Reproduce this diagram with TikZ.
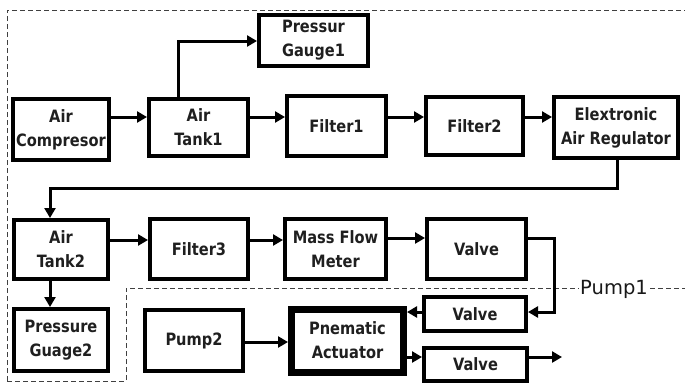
\documentclass[tikz,border=0pt]{standalone}
\usepackage{fontspec}
\setmainfont{DejaVu Sans}[FakeStretch=0.86]
\newfontfamily\pumpfont{DejaVu Sans}
\usetikzlibrary{arrows.meta}
\tikzset{
  box/.style={draw, line width=4pt, inner sep=0pt, align=center,
    font=\bfseries\fontsize{17}{24}\selectfont, text=black!88},
  arr/.style={line width=3pt, -{Triangle[length=10pt,width=11pt]}},
  dsh/.style={draw=black!75, line width=1pt, dash pattern=on 5pt off 3pt}
}
\begin{document}
\begin{tikzpicture}[x=1pt,y=-1pt]
\useasboundingbox (0,0) rectangle (685,383);
% dashed regions
\draw[dsh] (7,381) -- (7,10) -- (685,10);
\draw[dsh] (7,381) -- (126,381) -- (126,288) -- (685,288);
\node[fill=white, inner sep=1.5pt, font=\pumpfont\fontsize{19.5}{19.5}\selectfont, text=black!90] (pump1) at (614,289) {Pump1};
% row 1
\node[box, minimum width=96pt, minimum height=61pt] (comp) at (61,129.5) {Air\\Compresor};
\node[box, minimum width=99pt, minimum height=57pt] (tank1) at (198.5,127.5) {Air\\Tank1};
\node[box, minimum width=109pt, minimum height=51pt] (gauge1) at (313.5,40.5) {Pressur\\Gauge1};
\node[box, minimum width=99pt, minimum height=60pt] (filter1) at (336.5,126) {Filter1};
\node[box, minimum width=97pt, minimum height=58pt] (filter2) at (474.5,126) {Filter2};
\node[box, minimum width=124pt, minimum height=61pt] (reg) at (616,127.5) {Elextronic\\Air Regulator};
% row 2
\node[box, minimum width=94pt, minimum height=59pt] (tank2) at (61,249.5) {Air\\Tank2};
\node[box, minimum width=98pt, minimum height=60pt] (filter3) at (199,249) {Filter3};
\node[box, minimum width=101pt, minimum height=60pt] (mfm) at (335.5,249) {Mass Flow\\Meter};
\node[box, minimum width=99pt, minimum height=60pt] (valve1) at (476.5,249) {Valve};
% row 3
\node[box, minimum width=94pt, minimum height=62pt] (gauge2) at (61,340) {Pressure\\Guage2};
\node[box, minimum width=98pt, minimum height=61pt] (pump2) at (194,340.5) {Pump2};
\node[box, line width=7pt, minimum width=112pt, minimum height=63pt] (act) at (347.5,340.5) {Pnematic\\Actuator};
\node[box, minimum width=102pt, minimum height=34pt] (valve2) at (475,314) {Valve};
\node[box, minimum width=103pt, minimum height=33pt] (valve3) at (475.5,364.5) {Valve};
\coordinate (out) at (562,357);
% connectors
\draw[arr] (comp.east |- 0,117) -- (tank1.west |- 0,117);
\draw[arr] (tank1.east |- 0,117) -- (filter1.west |- 0,117);
\draw[arr] (filter1.east |- 0,117) -- (filter2.west |- 0,117);
\draw[arr] (filter2.east |- 0,117) -- (reg.west |- 0,117);
\draw[arr] (178,0 |- tank1.north) -- (178,41) -- (gauge1.west |- 0,41);
\draw[arr] (617,0 |- reg.south) -- (617,188) -- (50,188) -- (50,0 |- tank2.north);
\draw[arr] (50,0 |- tank2.south) -- (50,0 |- gauge2.north);
\draw[arr] (tank2.east |- 0,240) -- (filter3.west |- 0,240);
\draw[arr] (filter3.east |- 0,240) -- (mfm.west |- 0,240);
\draw[arr] (mfm.east |- 0,238) -- (valve1.west |- 0,238);
\draw[arr] (valve1.east |- 0,238) -- (554,238) -- (554,312) -- (valve2.east |- 0,312);
\draw[arr] (valve2.west |- 0,312) -- (act.east |- 0,312);
\draw[arr] (pump2.east |- 0,342) -- (act.west |- 0,342);
\draw[arr] (act.east |- 0,357) -- (valve3.west |- 0,357);
\draw[arr] (valve3.east |- 0,357) -- (out);
\end{tikzpicture}
\end{document}
